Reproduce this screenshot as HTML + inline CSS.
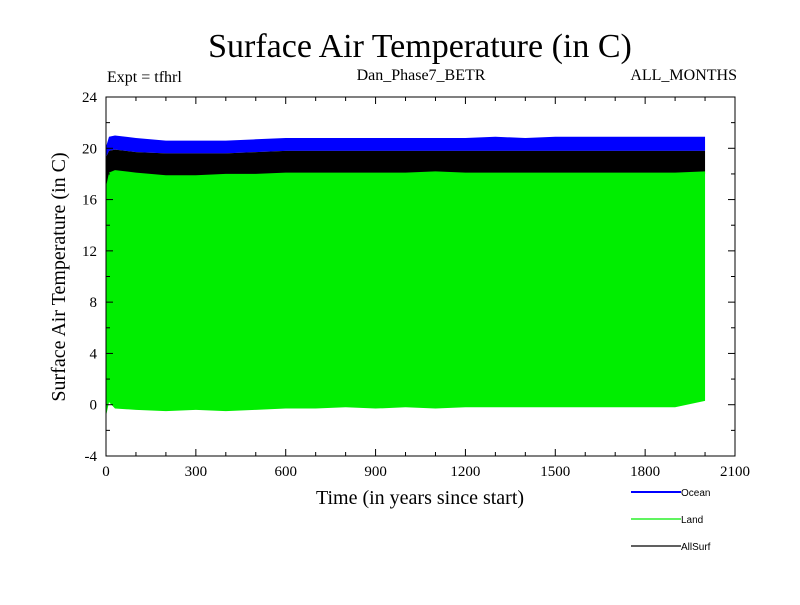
<!DOCTYPE html>
<html><head><meta charset="utf-8"><style>
body{margin:0;background:#fff;}
svg text{font-family:"Liberation Serif",serif;}
svg #legend text{font-family:"Liberation Sans",sans-serif;}
</style></head><body>
<svg id="chart" width="800" height="600">
<text x="420" y="57" text-anchor="middle" font-size="34">Surface Air Temperature (in C)</text>
<text x="107" y="82" font-size="16">Expt = tfhrl</text>
<text x="421" y="80" text-anchor="middle" font-size="16">Dan_Phase7_BETR</text>
<text x="737" y="80" text-anchor="end" font-size="16">ALL_MONTHS</text>
<g id="bands"></g>
<g id="axes"></g>
<text x="420" y="504" text-anchor="middle" font-size="20">Time (in years since start)</text>
<text transform="translate(65,277) rotate(-90)" text-anchor="middle" font-size="20">Surface Air Temperature (in C)</text>
<g id="legend"></g>
</svg>
<script>
const years=[0,10,30,100,200,300,400,500,600,700,800,900,1000,1100,1200,1300,1400,1500,1600,1700,1800,1900,2000];
const oceanMax=[20.1,20.9,21.0,20.8,20.6,20.6,20.6,20.7,20.8,20.8,20.8,20.8,20.8,20.8,20.8,20.9,20.8,20.9,20.9,20.9,20.9,20.9,20.9];
const oceanMin=[19.3,19.8,19.9,19.7,19.6,19.6,19.6,19.7,19.8,19.8,19.8,19.8,19.8,19.8,19.8,19.8,19.8,19.8,19.8,19.8,19.8,19.8,19.8];
const allMin=[17.0,17.8,18.0,17.9,17.8,17.8,17.9,17.9,18.0,18.0,18.0,18.0,18.0,18.0,18.0,18.0,18.0,18.0,18.0,18.0,18.0,18.0,18.0];
const landMax=[17.0,18.1,18.3,18.1,17.9,17.9,18.0,18.0,18.1,18.1,18.1,18.1,18.1,18.2,18.1,18.1,18.1,18.1,18.1,18.1,18.1,18.1,18.2];
const landMin=[-0.9,0.2,-0.3,-0.4,-0.5,-0.4,-0.5,-0.4,-0.3,-0.3,-0.2,-0.3,-0.2,-0.3,-0.2,-0.2,-0.2,-0.2,-0.2,-0.2,-0.2,-0.2,0.3];
const xTicks=[0,300,600,900,1200,1500,1800,2100];
const yTicks=[-4,0,4,8,12,16,20,24];
const X0=106,X1=735,Y0=456,Y1=97;
const sx=v=>X0+(v-0)*(X1-X0)/2100;
const sy=v=>Y0-(v+4)*(Y0-Y1)/28;
const NS="http://www.w3.org/2000/svg";
function mk(t,a,p){const e=document.createElementNS(NS,t);for(const k in a)e.setAttribute(k,a[k]);p.appendChild(e);return e;}
const bands=document.getElementById('bands');
function band(top,bot,col,name){
 let d=years.map((y,i)=>(i?'L':'M')+sx(y)+','+sy(top[i])).join('');
 for(let i=years.length-1;i>=0;i--)d+='L'+sx(years[i])+','+sy(bot[i]);
 const p=mk('path',{d:d+'Z',fill:col},bands);
 
 
}
band(oceanMax,oceanMin,'#0000ff','ocean-series');
band(oceanMin,allMin,'#000000','allsurf-series');
band(landMax,landMin,'#00ee00','land-series');
const ax=document.getElementById('axes');
const fr=mk('rect',{x:X0,y:Y1,width:X1-X0,height:Y0-Y1,fill:'none',stroke:'#000','stroke-width':1},ax);


for(let v=0;v<=2100;v+=100){const big=v%300===0,L=big?7:4;
 mk('line',{x1:sx(v),x2:sx(v),y1:Y0,y2:Y0-L,stroke:'#000'},ax);
 mk('line',{x1:sx(v),x2:sx(v),y1:Y1,y2:Y1+L,stroke:'#000'},ax);}
for(let v=-4;v<=24;v+=2){const big=v%4===0,L=big?7:4;
 mk('line',{x1:X0,x2:X0+L,y1:sy(v),y2:sy(v),stroke:'#000'},ax);
 mk('line',{x1:X1,x2:X1-L,y1:sy(v),y2:sy(v),stroke:'#000'},ax);}
xTicks.forEach(v=>{const t=mk('text',{x:sx(v),y:Y0+20,'text-anchor':'middle','font-size':15},ax);t.textContent=v;
 
 });
yTicks.forEach(v=>{const t=mk('text',{x:X0-9,y:sy(v)+5,'text-anchor':'end','font-size':15},ax);t.textContent=v;
 
 });
const lg=document.getElementById('legend');
[['Ocean','#0000ff',492],['Land','#00ee00',519],['AllSurf','#000',546]].forEach(([n,c,y])=>{
 const g=mk('g',{},lg);
 
 
 mk('line',{x1:631,x2:681,y1:y,y2:y,stroke:c,'stroke-width':n==='Ocean'?2:1.2},g);
 const t=mk('text',{x:681,y:y+4,'font-size':10},g);t.textContent=n;});
</script>
</body></html>
